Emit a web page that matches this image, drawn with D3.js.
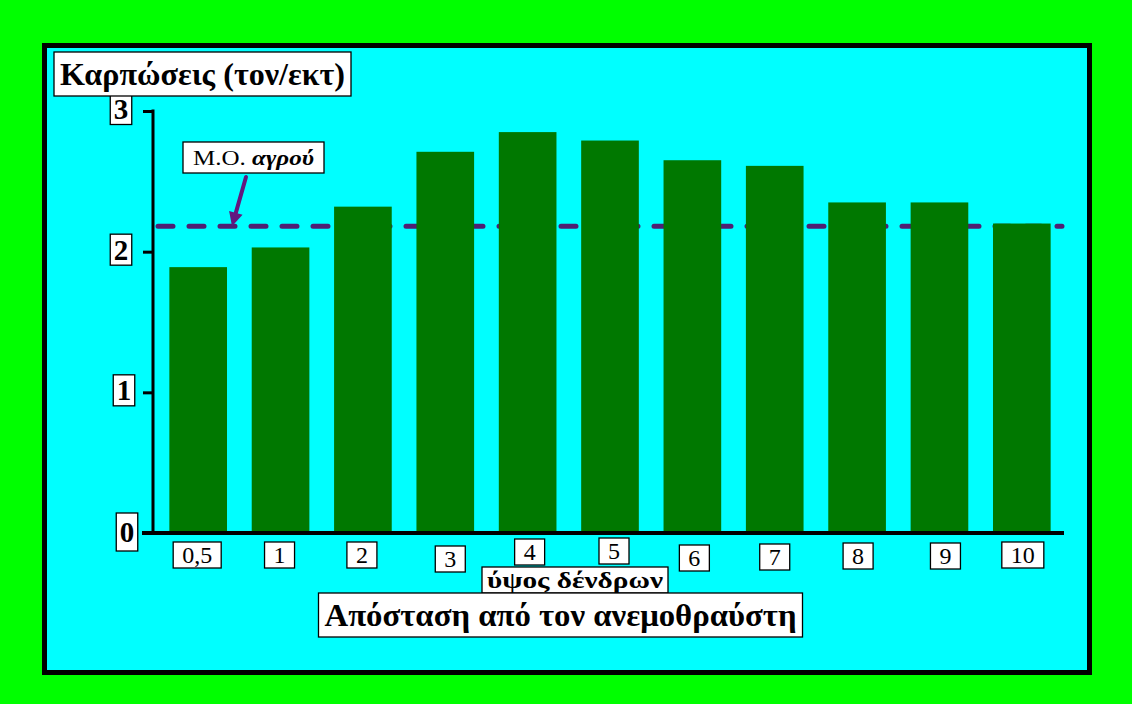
<!DOCTYPE html>
<html>
<head>
<meta charset="utf-8">
<script src="https://cdn.jsdelivr.net/npm/d3@7"></script>
<style>
  html, body { margin: 0; padding: 0; background: #00ff00; }
  svg { display: block; }
</style>
</head>
<body>
<svg id="chart" width="1132" height="704"></svg>
<script>
// Yield by distance from the windbreak (in tree heights)
const distances = ["0,5", "1", "2", "3", "4", "5", "6", "7", "8", "9", "10"];
const yields = [1.89, 2.03, 2.32, 2.71, 2.85, 2.79, 2.65, 2.61, 2.35, 2.35, 2.20];
const fieldMean = 2.18;
const yTicks = [0, 1, 2, 3];

const yTitle = "Καρπώσεις (τον/εκτ)";
const xUnit = "ύψος δένδρων";
const xTitle = "Απόσταση από τον ανεμοθραύστη";
const meanLabelA = "Μ.Ο. ";
const meanLabelB = "αγρού";

// hand-placed nudges of the category label boxes (dx, dy)
const xLabelNudge = [[-1, -1], [-1, -1], [-1, -1], [5, 3], [2, -4], [4, -5], [2, 2], [0, 1], [1, 0], [6, 0], [1, -1]];

const svg = d3.select("#chart");
const SERIF = "'Liberation Serif', 'Times New Roman', serif";

// background and framed panel
svg.append("rect").attr("width", 1132).attr("height", 704).attr("fill", "#00ff00");
svg.append("rect")
  .attr("x", 44.5).attr("y", 45.5).attr("width", 1045).attr("height", 627)
  .attr("fill", "#00ffff").attr("stroke", "#000").attr("stroke-width", 5);

const x = d3.scaleBand().domain(distances).range([157, 1063]).paddingInner(0.3).paddingOuter(0.15);
const y = d3.scaleLinear().domain([0, 3]).range([533, 111]);

// boxed label helper: white box with thin black border around centred text
function boxed(parent, cx, cy, build, opts) {
  const g = parent.append("g");
  const rect = g.append("rect").attr("fill", "#fff").attr("stroke", "#000").attr("stroke-width", opts.sw || 1.3);
  const t = g.append("text")
    .attr("x", cx).attr("y", cy)
    .attr("text-anchor", "middle")
    .attr("dominant-baseline", "central")
    .attr("font-family", SERIF)
    .attr("font-size", opts.size)
    .attr("font-weight", opts.weight || "normal")
    .attr("fill", "#000");
  build(t);
  if (opts.len) t.attr("textLength", opts.len).attr("lengthAdjust", "spacingAndGlyphs");
  const w = opts.len || t.node().getComputedTextLength();
  const h = opts.h;
  rect.attr("x", cx - w / 2 - opts.px).attr("y", cy - h / 2)
      .attr("width", w + 2 * opts.px).attr("height", h);
  return g;
}

// mean-of-field dashed reference line (behind the bars)
svg.append("line")
  .attr("x1", 158).attr("x2", 1062)
  .attr("y1", y(fieldMean)).attr("y2", y(fieldMean))
  .attr("stroke", "#4f1f73").attr("stroke-width", 5)
  .attr("stroke-dasharray", "15 16").attr("stroke-linecap", "round");

// bars
svg.append("g").selectAll("rect")
  .data(yields)
  .join("rect")
  .attr("x", (d, i) => x(distances[i]))
  .attr("y", d => y(d))
  .attr("width", x.bandwidth())
  .attr("height", d => y(0) - y(d))
  .attr("fill", "#007800");

// y axis
const yAxis = svg.append("g").attr("transform", "translate(153,0)")
  .call(d3.axisLeft(y).tickValues(yTicks).tickSize(10).tickFormat(""));
yAxis.select(".domain").remove();
yAxis.selectAll(".tick line").attr("stroke", "#000").attr("stroke-width", 3);
svg.append("line").attr("x1", 153).attr("x2", 153).attr("y1", y(3) - 1.5).attr("y2", y(0))
  .attr("stroke", "#000").attr("stroke-width", 3);

// x axis baseline
const xAxis = svg.append("g").attr("transform", `translate(0,${y(0)})`)
  .call(d3.axisBottom(x).tickSize(0).tickFormat(""));
xAxis.select(".domain").remove();
svg.append("line").attr("x1", 142).attr("x2", 1064).attr("y1", y(0)).attr("y2", y(0))
  .attr("stroke", "#000").attr("stroke-width", 4);

// y tick labels
yTicks.forEach(v => {
  const cy = v === 0 ? y(v) - 1 : y(v) - 2;
  const cx = v === 0 ? 127 : (v === 1 ? 124 : 121);
  boxed(svg, cx, cy, t => t.text(d3.format("d")(v)), { size: 29, weight: "bold", px: 3.5, h: v === 0 ? 38 : 31 });
});

// category labels
distances.forEach((d, i) => {
  const [dx, dy] = xLabelNudge[i];
  boxed(svg, x(d) + x.bandwidth() / 2 + dx, 556 + dy, t => t.text(d), { size: 24, px: 9, h: 26 });
});

// axis titles
boxed(svg, 202.5, 74, t => t.text(yTitle), { size: 31, weight: "bold", px: 6, h: 44, len: 285 });
boxed(svg, 575, 580, t => t.text(xUnit), { size: 23, weight: "bold", px: 5, h: 26, len: 176 });
boxed(svg, 560.5, 615, t => t.text(xTitle), { size: 31, weight: "bold", px: 6, h: 44, len: 472 });

// mean label with arrow pointing at the line
boxed(svg, 253.5, 157.5, t => {
  t.append("tspan").text(meanLabelA);
  t.append("tspan").attr("font-weight", "bold").attr("font-style", "italic").text(meanLabelB);
}, { size: 21, px: 10, h: 31, len: 121 });

const tip = [232, y(fieldMean)];
const tail = [246, 177];
const ang = Math.atan2(tip[1] - tail[1], tip[0] - tail[0]);
const headLen = 14, headW = 7;
const base = [tip[0] - headLen * Math.cos(ang), tip[1] - headLen * Math.sin(ang)];
svg.append("line")
  .attr("x1", tail[0]).attr("y1", tail[1]).attr("x2", base[0]).attr("y2", base[1])
  .attr("stroke", "#62187f").attr("stroke-width", 4).attr("stroke-linecap", "round");
svg.append("path")
  .attr("d", d3.line()([
    tip,
    [base[0] + headW * Math.sin(ang), base[1] - headW * Math.cos(ang)],
    [base[0] - headW * Math.sin(ang), base[1] + headW * Math.cos(ang)]
  ]) + "Z")
  .attr("fill", "#62187f");
</script>
</body>
</html>
